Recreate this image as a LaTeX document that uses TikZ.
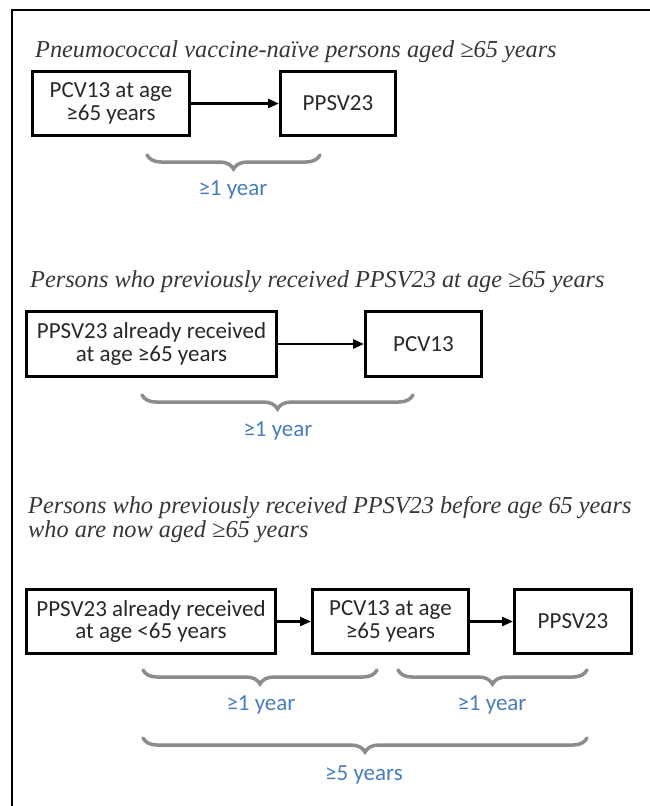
\documentclass[tikz,border=0pt]{standalone}
\usepackage{fontspec}
\setmainfont{Liberation Serif}
\newfontfamily\boxfont{Carlito}
\usetikzlibrary{decorations.pathreplacing,arrows.meta}
\definecolor{lblblue}{RGB}{74,125,190}
\definecolor{brgray}{RGB}{140,140,140}
\definecolor{ttlgray}{RGB}{55,55,55}
\definecolor{boxtxt}{RGB}{40,40,40}
\begin{document}
\begin{tikzpicture}[x=1pt,y=-1pt,
  vbox/.style={draw=black, line width=3pt, fill=white, align=center, inner sep=0pt,
    font=\boxfont\fontsize{23}{22.5}\selectfont, text=boxtxt},
  ttl/.style={anchor=base west, inner sep=0pt, text=ttlgray,
    font=\itshape\fontsize{24.3}{24}\selectfont, align=left},
  arr/.style={line width=2.5pt, -{Triangle[length=11pt,width=9pt]}},
  brc/.style={draw=brgray, line width=3.5pt, line cap=round,
    decorate, decoration={brace, amplitude=14pt}},
  lbl/.style={text=lblblue, inner sep=0pt, font=\boxfont\fontsize{23}{24}\selectfont}]
\useasboundingbox (0,0) rectangle (649,806);
\fill[white] (0,0) rectangle (649,806);
\draw[line width=2.5pt] (652,10) -- (12,10) -- (12,810);

% Section 1
\node[ttl] (t1) at (35,57) {Pneumococcal vaccine-naïve persons aged ≥65 years};
\node[vbox, minimum width=157pt, minimum height=64pt] (b1) at (111,103.5) {PCV13 at age\\≥65 years};
\node[vbox, minimum width=115pt, minimum height=64pt] (b2) at (338,103.5) {PPSV23};
\draw[arr] (b1) -- (b2);
\coordinate (r1a) at (320,155);
\coordinate (r1b) at (147,155);
\draw[brc] (r1a) -- (r1b);
\node[lbl] (l1) at (233,190) {≥1 year};

% Section 2
\node[ttl] (t2) at (30,287) {Persons who previously received PPSV23 at age ≥65 years};
\node[vbox, minimum width=250pt, minimum height=65pt] (b3) at (151.5,344) {PPSV23 already received\\at age ≥65 years};
\node[vbox, minimum width=116pt, minimum height=65pt] (b4) at (423.5,344) {PCV13};
\draw[arr] (b3) -- (b4);
\coordinate (r2a) at (413,395);
\coordinate (r2b) at (142,395);
\draw[brc] (r2a) -- (r2b);
\node[lbl] (l2) at (278,431) {≥1 year};

% Section 3
\node[ttl] (t3) at (28,537) {Persons who previously received PPSV23 before age 65 years\\who are now aged ≥65 years};
\node[vbox, minimum width=249pt, minimum height=64pt] (b5) at (151,621.5) {PPSV23 already received\\at age <65 years};
\node[vbox, minimum width=156pt, minimum height=64pt] (b6) at (390.5,621.5) {PCV13 at age\\≥65 years};
\node[vbox, minimum width=117pt, minimum height=64pt] (b7) at (573,621.5) {PPSV23};
\draw[arr] (b5) -- (b6);
\draw[arr] (b6) -- (b7);
\coordinate (r3a) at (377,670);
\coordinate (r3b) at (143,670);
\draw[brc] (r3a) -- (r3b);
\node[lbl] (l3) at (261,705) {≥1 year};
\coordinate (r4a) at (587,670);
\coordinate (r4b) at (398,670);
\draw[brc] (r4a) -- (r4b);
\node[lbl] (l4) at (492,705) {≥1 year};
\coordinate (r5a) at (587,738);
\coordinate (r5b) at (143,738);
\draw[brc] (r5a) -- (r5b);
\node[lbl] (l5) at (364,775) {≥5 years};
\end{tikzpicture}
\end{document}
